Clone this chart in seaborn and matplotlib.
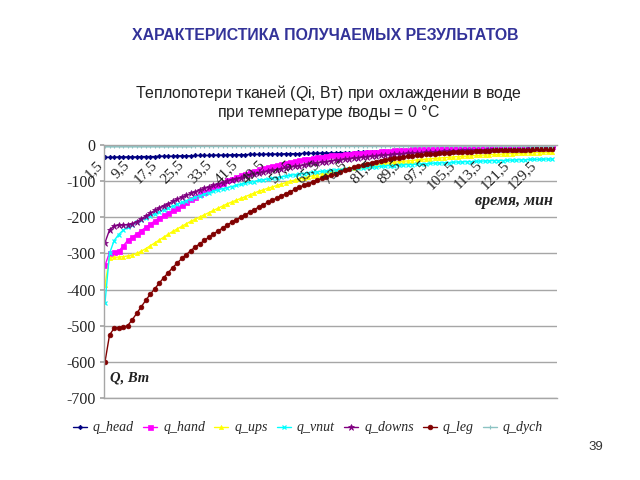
import numpy as np
import pandas as pd
import matplotlib
matplotlib.use("Agg")
import matplotlib.pyplot as plt
import seaborn as sns
from matplotlib.lines import Line2D

# ---------------- data ----------------
time_labels = ["1,5", "9,5", "17,5", "25,5", "33,5", "41,5", "49,5", "57,5", "65,5",
               "73,5", "81,5", "89,5", "97,5", "105,5", "113,5", "121,5", "129,5"]

q_head = [-34, -34, -34, -33, -33, -33, -33, -33, -32, -32,
          -32, -32, -31, -31, -31, -31, -30, -30, -30, -30,
          -29, -29, -29, -29, -28, -28, -28, -28, -27, -27,
          -27, -27, -26, -26, -26, -26, -25, -25, -25, -25,
          -24, -24, -24, -24, -23, -23, -23, -23, -22, -22,
          -22, -22, -21, -21, -21, -21, -20, -20, -20, -20,
          -19, -19, -19, -19, -18, -18, -18, -18, -17, -17,
          -17, -17, -16, -16, -16, -16, -15, -15, -15, -15,
          -14, -14, -14, -14, -13, -13, -13, -13, -12, -12,
          -12, -12, -11, -11, -11, -11, -10, -10, -10, -10]

q_hand = [-333, -298, -296, -294, -280, -264, -255, -246, -237, -228,
          -219, -210, -202, -195, -188, -181, -174, -166, -158, -150,
          -143, -136, -129, -122, -116, -110, -104, -98, -93, -88,
          -83, -79, -75, -71, -67, -64, -61, -58, -55, -52,
          -49, -47, -44, -42, -40, -38, -36, -34, -32, -31,
          -29, -28, -27, -25, -24, -23, -22, -21, -20, -19,
          -18, -17, -16, -16, -15, -14, -14, -13, -12, -12,
          -11, -11, -10, -10, -9, -9, -9, -8, -8, -8,
          -7, -7, -7, -6, -6, -6, -6, -5, -5, -5,
          -5, -5, -4, -4, -4, -4, -4, -4, -3, -3]

q_ups = [-387, -312, -311, -310, -309, -307, -304, -300, -294, -287,
         -279, -271, -263, -255, -247, -239, -232, -225, -218, -211,
         -205, -199, -193, -187, -181, -175, -169, -163, -158, -153,
         -148, -143, -138, -133, -128, -124, -120, -116, -112, -108,
         -104, -100, -97, -94, -91, -88, -85, -82, -79, -76,
         -73, -71, -69, -67, -65, -63, -61, -59, -57, -55,
         -54, -52, -51, -49, -48, -46, -45, -44, -43, -41,
         -40, -39, -38, -37, -36, -35, -34, -33, -32, -31,
         -31, -30, -29, -28, -28, -27, -26, -26, -25, -24,
         -24, -23, -23, -22, -22, -21, -21, -20, -20, -19]

q_vnut = [-437, -300, -265, -248, -236, -227, -220, -214, -208, -202,
          -196, -190, -185, -179, -174, -169, -164, -159, -154, -149,
          -144, -140, -136, -132, -128, -124, -121, -118, -115, -112,
          -109, -106, -103, -101, -98, -96, -94, -92, -90, -88,
          -86, -84, -82, -80, -79, -77, -76, -74, -73, -72,
          -70, -69, -68, -67, -66, -65, -64, -63, -62, -61,
          -60, -59, -58, -57, -57, -56, -55, -54, -54, -53,
          -52, -52, -51, -50, -50, -49, -49, -48, -47, -47,
          -46, -46, -45, -45, -44, -44, -43, -43, -43, -42,
          -42, -41, -41, -41, -40, -40, -40, -39, -39, -39]

q_downs = [-270, -235, -224, -222, -221, -220, -218, -212, -205, -197,
           -189, -181, -174, -168, -162, -156, -150, -144, -139, -134,
           -129, -124, -120, -116, -112, -108, -104, -100, -96, -93,
           -90, -87, -84, -81, -78, -75, -73, -70, -68, -66,
           -63, -61, -59, -57, -55, -53, -51, -49, -47, -46,
           -44, -42, -41, -39, -38, -36, -35, -34, -32, -31,
           -30, -29, -28, -27, -26, -25, -24, -23, -22, -22,
           -21, -20, -19, -19, -18, -17, -17, -16, -16, -15,
           -15, -14, -14, -13, -13, -12, -12, -12, -11, -11,
           -11, -10, -10, -10, -9, -9, -9, -9, -8, -8]

q_leg = [-600, -526, -507, -505, -504, -500, -484, -466, -448, -430,
         -413, -398, -382, -367, -353, -339, -326, -314, -303, -292,
         -282, -273, -264, -255, -246, -238, -230, -222, -214, -207,
         -200, -193, -186, -179, -172, -165, -159, -153, -147, -141,
         -135, -129, -123, -117, -112, -107, -102, -97, -92, -88,
         -83, -79, -74, -70, -66, -62, -58, -55, -52, -49,
         -46, -43, -41, -39, -37, -35, -33, -31, -30, -28,
         -27, -26, -25, -24, -23, -22, -21, -20, -20, -19,
         -18, -18, -17, -17, -16, -16, -15, -15, -15, -14,
         -14, -14, -13, -13, -13, -12, -12, -12, -11, -11]

q_dych = [-4, -4, -4, -4, -4, -4, -4, -4, -4, -4,
          -4, -4, -4, -4, -4, -4, -4, -4, -4, -4,
          -3, -3, -3, -3, -3, -3, -3, -3, -3, -3,
          -3, -3, -3, -3, -3, -3, -3, -3, -3, -3,
          -3, -3, -3, -3, -3, -3, -3, -3, -3, -3,
          -3, -3, -3, -3, -3, -3, -3, -3, -3, -3,
          -3, -3, -3, -3, -3, -3, -3, -3, -3, -3,
          -2, -2, -2, -2, -2, -2, -2, -2, -2, -2,
          -2, -2, -2, -2, -2, -2, -2, -2, -2, -2,
          -2, -2, -2, -2, -2, -2, -2, -2, -2, -2]

y_ticks = [0, -100, -200, -300, -400, -500, -600, -700]
series_names = ["q_head", "q_hand", "q_ups", "q_vnut", "q_downs", "q_leg", "q_dych"]
series_values = [q_head, q_hand, q_ups, q_vnut, q_downs, q_leg, q_dych]

# ---------------- styling ----------------
sns.set_theme(style="white")
plt.rcParams["font.family"] = ["Liberation Sans", "DejaVu Sans"]
plt.rcParams["axes.unicode_minus"] = False
plt.rcParams["mathtext.fontset"] = "custom"
plt.rcParams["mathtext.it"] = "Liberation Sans:italic"
plt.rcParams["mathtext.rm"] = "Liberation Sans"

styles = {
    "q_head":  dict(color="#000080", marker="D", ms=2.3, mew=0.5, lw=1.0),
    "q_hand":  dict(color="#FF00FF", marker="s", ms=3.6, mew=0.5, lw=1.0),
    "q_ups":   dict(color="#FFFF00", marker="^", ms=3.0, mew=0.5, lw=1.0),
    "q_vnut":  dict(color="#00FFFF", marker="x", ms=3.0, mew=0.9, lw=1.0),
    "q_downs": dict(color="#800080", marker="*", ms=4.5, mew=0.5, lw=1.0),
    "q_leg":   dict(color="#800000", marker="o", ms=3.4, mew=0.5, lw=1.0),
    "q_dych":  dict(color="#8CC3C3", marker="+", ms=3.0, mew=0.8, lw=1.6),
}

rows = []
for name, vals in zip(series_names, series_values):
    for i, v in enumerate(vals):
        rows.append({"idx": i, "Q": v, "series": name})
df = pd.DataFrame(rows)

fig = plt.figure(figsize=(6.4, 4.8), dpi=100)
ax = fig.add_axes([104 / 640, 1 - 398 / 480, (557 - 104) / 640, (398 - 145) / 480])

for name in series_names:
    st = styles[name]
    sub = df[df["series"] == name]
    sns.lineplot(data=sub, x="idx", y="Q", ax=ax, color=st["color"], sort=False,
                 marker=st["marker"], markersize=st["ms"], markeredgewidth=st["mew"],
                 markeredgecolor=st["color"], linewidth=st["lw"], legend=False)

n = len(q_head)
ax.set_xlim(-0.22, n)
ax.set_ylim(-700, 0)
ax.set_yticks(y_ticks)
ax.set_yticklabels([str(t) for t in y_ticks], fontfamily="Liberation Serif",
                   fontsize=11.5, color="#222222")
ax.set_xticks([])
ax.set_xlabel("")
ax.set_ylabel("")
ax.grid(axis="y", color="#a6a6a6", linewidth=1.0)
ax.set_axisbelow(True)
for s in ["left", "bottom", "top"]:
    ax.spines[s].set_visible(True)
    ax.spines[s].set_color("#a6a6a6")
    ax.spines[s].set_linewidth(1.0)
ax.spines["right"].set_visible(False)
ax.tick_params(axis="y", length=3, color="#a6a6a6", pad=3, left=True)

# category labels along the zero line (every 6th point)
for k, lab in enumerate(time_labels):
    ax.annotate(lab, xy=(k * 6, 0), xycoords="data", xytext=(-6.5, -9.5),
                textcoords="offset points", rotation=45, ha="right", va="top",
                rotation_mode="anchor", fontfamily="Liberation Serif",
                fontsize=11, color="#222222")

ax.text(0.99, 0.78, "время, мин", transform=ax.transAxes, ha="right", va="center",
        fontfamily="Liberation Serif", fontstyle="italic", fontweight="bold",
        fontsize=11.5, color="#222222")
ax.text(0.013, 0.08, "Q, Вт", transform=ax.transAxes, ha="left", va="center",
        fontfamily="Liberation Serif", fontstyle="italic", fontweight="bold",
        fontsize=10.5, color="#222222")

handles = []
for name in series_names:
    st = styles[name]
    handles.append(Line2D([0], [0], color=st["color"], marker=st["marker"],
                          markersize=st["ms"], markeredgewidth=st["mew"], linewidth=1.0))
leg = fig.legend(handles, series_names, loc="center", bbox_to_anchor=(308 / 640, 1 - 428 / 480),
                 ncol=7, frameon=False, handlelength=1.0, handletextpad=0.45,
                 columnspacing=0.65,
                 prop={"family": "Liberation Serif", "style": "italic", "size": 10})

fig.text(325 / 640, 1 - 36 / 480, "ХАРАКТЕРИСТИКА ПОЛУЧАЕМЫХ РЕЗУЛЬТАТОВ",
         ha="center", va="center", fontsize=11.4, fontweight="bold", color="#333399")
fig.text(328 / 640, 1 - 93 / 480, r"Теплопотери тканей ($\it{Q}$i, Вт) при охлаждении в воде",
         ha="center", va="center", fontsize=11.4, color="#222222")
fig.text(328 / 640, 1 - 112 / 480, r"при температуре $\it{t}$воды = 0 °C",
         ha="center", va="center", fontsize=11.4, color="#222222")
fig.text(596 / 640, 1 - 447 / 480, "39", ha="center", va="center", fontsize=9.5,
         color="#333333")

fig.savefig("out.png", dpi=100)
